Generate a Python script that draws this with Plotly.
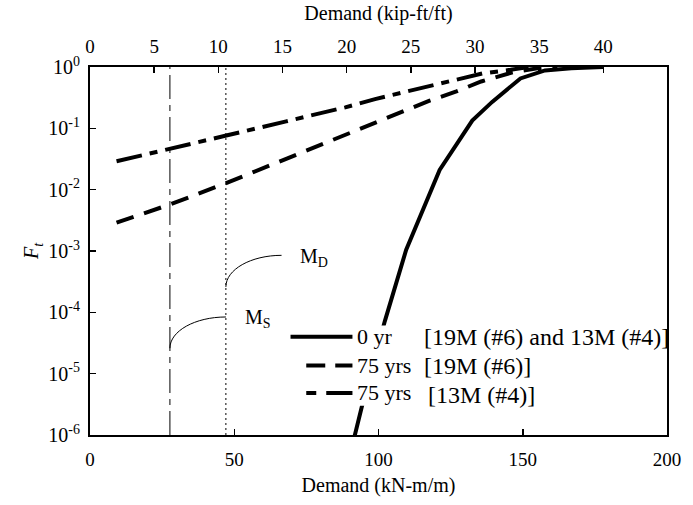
import numpy as np
import plotly.graph_objects as go

KN_PER_KIP = 4.448  # 1 kip-ft/ft = 4.448 kN-m/m

# ---- data ----
# 0 yr  [19M (#6) and 13M (#4)]
demand_0yr = [91.0, 94.3, 102.2, 109.6, 121.2, 132.5, 139.4, 149.2, 157.7, 166.8, 177.8]
ft_0yr = [7e-7, 3.0e-6, 7.2e-5, 1.05e-3, 0.021, 0.134, 0.27, 0.65, 0.88, 0.95, 1.0]

# 75 yrs [19M (#6)]
demand_75_19m = [9.2, 28.0, 47.6, 67.4, 88.3, 98.8, 117.5, 127.0, 135.6, 146.5, 155.6, 162.0]
ft_75_19m = [0.0029, 0.0058, 0.013, 0.031, 0.075, 0.12, 0.28, 0.40, 0.58, 0.82, 0.96, 1.0]

# 75 yrs [13M (#4)]
demand_75_13m = [9.2, 28.0, 47.6, 68.0, 88.5, 98.8, 114.8, 128.5, 136.3, 145.8, 152.0]
ft_75_13m = [0.029, 0.046, 0.077, 0.13, 0.22, 0.30, 0.46, 0.64, 0.79, 0.90, 1.0]

# reference demand lines (kN-m/m)
m_s = 27.7
m_d = 47.1

x_tickvals = [0, 50, 100, 150, 200]
x2_tickvals = [0, 5, 10, 15, 20, 25, 30, 35, 40]
y_tickvals = [1e-6, 1e-5, 1e-4, 1e-3, 1e-2, 1e-1, 1]
y_ticktext = ["10<sup>-6</sup>", "10<sup>-5</sup>", "10<sup>-4</sup>", "10<sup>-3</sup>",
              "10<sup>-2</sup>", "10<sup>-1</sup>", "10<sup>0</sup>"]

legend_labels = ["0 yr", "75 yrs", "75 yrs"]
legend_notes = ["[19M (#6) and 13M (#4)]", "[19M (#6)]", "[13M (#4)]"]

FONT = "Liberation Serif, Times New Roman, serif"
TICK_SIZE = 19
TITLE_SIZE = 20
DASHED = "18px,11px"
DASHDOT = "26px,8px,8px,8px"

fig = go.Figure()

fig.add_trace(go.Scatter(x=demand_75_13m, y=ft_75_13m, mode="lines",
                         line=dict(color="black", width=4, dash=DASHDOT),
                         showlegend=False, hoverinfo="skip"))
fig.add_trace(go.Scatter(x=demand_75_19m, y=ft_75_19m, mode="lines",
                         line=dict(color="black", width=4, dash=DASHED),
                         showlegend=False, hoverinfo="skip"))
fig.add_trace(go.Scatter(x=demand_0yr, y=ft_0yr, mode="lines",
                         line=dict(color="black", width=4),
                         showlegend=False, hoverinfo="skip"))

# M_S and M_D vertical lines
fig.add_trace(go.Scatter(x=[m_s, m_s], y=[1e-6, 1], mode="lines",
                         line=dict(color="black", width=1, dash="24px,6px,6px,6px"),
                         showlegend=False, hoverinfo="skip"))
fig.add_trace(go.Scatter(x=[m_d, m_d], y=[1e-6, 1], mode="lines",
                         line=dict(color="black", width=1, dash="2px,3px"),
                         showlegend=False, hoverinfo="skip"))

# helper trace so the top (kip-ft/ft) axis is drawn
fig.add_trace(go.Scatter(x=[0, 200 / KN_PER_KIP], y=[1e-6, 1e-6], xaxis="x2", yaxis="y",
                         mode="lines", line=dict(width=0), opacity=0,
                         showlegend=False, hoverinfo="skip"))


def arc_path(x0, y0, x1, y1, k=0.55):
    ly0, ly1 = np.log10(y0), np.log10(y1)
    c1x, c1y = x0, 10 ** (ly0 + k * (ly1 - ly0))
    c2x, c2y = x1 - k * (x1 - x0), y1
    return (f"M {x0:.4f},{y0:.10f} C {c1x:.4f},{c1y:.10f} "
            f"{c2x:.4f},{c2y:.10f} {x1:.4f},{y1:.10f}")


shapes = []
# callout arcs
shapes.append(dict(type="path", xref="x", yref="y",
                   path=arc_path(m_s, 2.6e-5, m_d, 8.4e-5),
                   line=dict(color="black", width=1)))
shapes.append(dict(type="path", xref="x", yref="y",
                   path=arc_path(m_d, 2.6e-4, 66.4, 8.5e-4),
                   line=dict(color="black", width=1)))

annotations = []
annotations.append(dict(x=53.0, y=np.log10(7.9e-5), xref="x", yref="y",
                        text="M<sub>S</sub>", showarrow=False, xanchor="left",
                        yanchor="middle", font=dict(family=FONT, size=20, color="black")))
annotations.append(dict(x=72.0, y=np.log10(7.7e-4), xref="x", yref="y",
                        text="M<sub>D</sub>", showarrow=False, xanchor="left",
                        yanchor="middle", font=dict(family=FONT, size=20, color="black")))


# ---- manual legend (paper coordinates of the plot area) ----
def px2paper_x(px):
    return (px - 90) / 587.0


def px2paper_y(py):
    return (443 - py) / 376.0


shapes.append(dict(type="rect", xref="paper", yref="paper", layer="above",
                   x0=px2paper_x(286), x1=px2paper_x(676),
                   y0=px2paper_y(413), y1=px2paper_y(331),
                   fillcolor="white", line=dict(width=0)))
rows_y = [342.5, 372, 400]
sample_x = [(294, 357), (310, 357), (310, 357)]
sample_dash = ["solid", "19px,10px", "10px,10px,27px,10px"]
note_x = [428, 428, 432]
for i in range(3):
    yy = px2paper_y(rows_y[i])
    shapes.append(dict(type="line", xref="paper", yref="paper", layer="above",
                       x0=px2paper_x(sample_x[i][0]), x1=px2paper_x(sample_x[i][1]),
                       y0=yy, y1=yy, line=dict(color="black", width=4, dash=sample_dash[i])))
    annotations.append(dict(x=px2paper_x(360), y=yy, xref="paper", yref="paper",
                            text=legend_labels[i], showarrow=False, xanchor="left",
                            yanchor="middle", font=dict(family=FONT, size=22, color="black")))
    annotations.append(dict(x=px2paper_x(note_x[i]), y=px2paper_y(rows_y[i] + (2 if i == 2 else 0)),
                            xref="paper", yref="paper",
                            text=legend_notes[i], showarrow=False, xanchor="left",
                            yanchor="middle", font=dict(family=FONT, size=24, color="black")))

fig.update_layout(
    width=693, height=505, autosize=False,
    margin=dict(l=90, r=16, t=67, b=62, pad=0),
    paper_bgcolor="white", plot_bgcolor="white",
    font=dict(family=FONT, size=TICK_SIZE, color="black"),
    showlegend=False,
    shapes=shapes, annotations=annotations,
    xaxis=dict(range=[0, 200], tickmode="array", tickvals=x_tickvals,
               ticks="inside", ticklen=6, tickwidth=1.5, tickcolor="black",
               showline=True, linewidth=2, linecolor="black", mirror=False,
               showgrid=False, zeroline=False, ticklabelstandoff=6,
               tickfont=dict(family=FONT, size=TICK_SIZE, color="black"),
               title=dict(text="Demand (kN-m/m)", standoff=9,
                          font=dict(family=FONT, size=TITLE_SIZE, color="black"))),
    xaxis2=dict(range=[0, 200 / KN_PER_KIP], overlaying="x", side="top", anchor="y",
                tickmode="array", tickvals=x2_tickvals,
                ticks="inside", ticklen=6, tickwidth=1.5, tickcolor="black",
                showline=True, linewidth=2, linecolor="black",
                showgrid=False, zeroline=False, ticklabelstandoff=4,
                tickfont=dict(family=FONT, size=TICK_SIZE, color="black"),
                title=dict(text="Demand (kip-ft/ft)", standoff=10,
                           font=dict(family=FONT, size=TITLE_SIZE, color="black"))),
    yaxis=dict(type="log", range=[-6, 0], tickmode="array", tickvals=y_tickvals,
               ticktext=y_ticktext,
               ticks="inside", ticklen=6, tickwidth=1.5, tickcolor="black",
               showline=True, linewidth=2, linecolor="black", mirror=True,
               showgrid=False, zeroline=False, ticklabelstandoff=4,
               tickfont=dict(family=FONT, size=20, color="black"),
               title=dict(text="<i>F</i><sub><i>t</i></sub>", standoff=4,
                          font=dict(family=FONT, size=TITLE_SIZE, color="black"))),
)

# remove the default 8px page margin so the figure sits at the window origin
fig.write_html("out.html",
               config={"displayModeBar": False, "staticPlot": True},
               post_script="document.body.style.margin='0px';"
                           "document.body.style.overflow='hidden';")
